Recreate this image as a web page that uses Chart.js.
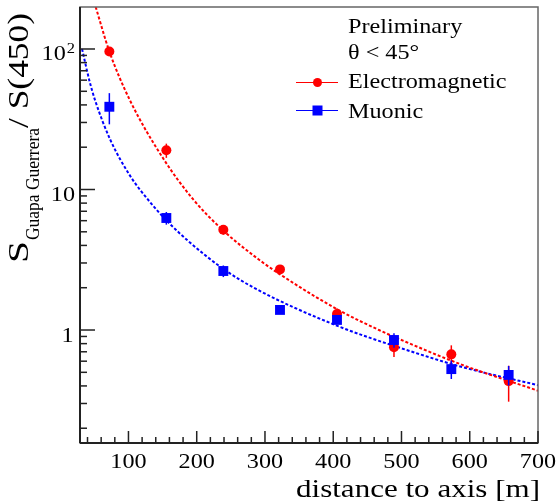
<!DOCTYPE html>
<html>
<head>
<meta charset="utf-8">
<script src="https://cdn.jsdelivr.net/npm/chart.js@4.4.0/dist/chart.umd.min.js"></script>
<style>
  html, body { margin: 0; padding: 0; background: #fff; }
  #wrap { width: 559px; height: 503px; }
</style>
</head>
<body>
<div id="wrap"><canvas id="chart" width="559" height="503"></canvas></div>
<script>
// measured points (distance to shower axis in m)
const distance = [72, 155.5, 239, 322, 405.5, 489, 573, 657];
const emRatio = [96, 19.0, 5.17, 2.70, 1.30, 0.753, 0.671, 0.433];
const emError = [5, 2.2, 0.4, 0.15, 0.13, 0.11, 0.107, 0.124];
const muRatio = [38.8, 6.27, 2.63, 1.39, 1.18, 0.849, 0.527, 0.479];
const muError = [9.7, 0.65, 0.25, 0.08, 0.08, 0.1, 0.079, 0.076];

// fitted curves
const emFitX = [52, 72, 102, 151, 194, 238, 290, 322, 404, 467, 506, 589, 700];
const emFitY = [199, 96, 43.3, 16.6, 8.6, 5.15, 3.2, 2.49, 1.42, 1.0, 0.825, 0.565, 0.37];
const muFitX = [32, 43, 51, 73, 102, 131, 156, 190, 239, 287, 404, 506, 589, 700];
const muFitY = [100, 59, 43.3, 22.8, 12.6, 8.2, 6.0, 4.2, 2.72, 1.96, 1.08, 0.725, 0.545, 0.405];

const xTicks = [100, 200, 300, 400, 500, 600, 700];
const yTicks = [1, 10, 100];
const yTickLabels = [["1", ""], ["10", ""], ["10", "2"]];
const legendHeader = ["Preliminary", "θ < 45°"];
const seriesNames = ["Electromagnetic", "Muonic"];

const RED = "#ff0000";
const BLUE = "#0000ff";
const SERIF = '"Liberation Serif", "Times New Roman", serif';
const SX = 1.1;

function toPoints(xs, ys) {
    return xs.map((v, i) => ({ x: v, y: ys[i] }));
}

function drawText(ctx, text, x, y, size, align, sx) {
    ctx.save();
    ctx.font = size + "px " + SERIF;
    ctx.fillStyle = "#000";
    ctx.textBaseline = "alphabetic";
    ctx.textAlign = align;
    ctx.translate(x, y);
    ctx.scale(sx, 1);
    ctx.fillText(text, 0, 0);
    const w = ctx.measureText(text).width * sx;
    ctx.restore();
    return w;
}

function fitText(ctx, text, x, y, size, target) {
    ctx.save();
    ctx.font = size + "px " + SERIF;
    const w = ctx.measureText(text).width;
    ctx.restore();
    return drawText(ctx, text, x, y, size, "left", target / w);
}

function line(ctx, x1, y1, x2, y2) {
    ctx.beginPath();
    ctx.moveTo(x1, y1);
    ctx.lineTo(x2, y2);
    ctx.stroke();
}

const errorBars = {
    id: "errorBars",
    beforeDatasetDraw(chart, args) {
        const ds = chart.data.datasets[args.index];
        if (!ds.errors) return;
        const { ctx, chartArea: a, scales: { x, y } } = chart;
        ctx.save();
        ctx.beginPath();
        ctx.rect(a.left, a.top, a.right - a.left, a.bottom - a.top);
        ctx.clip();
        ctx.strokeStyle = ds.backgroundColor;
        ctx.lineWidth = 1.5;
        ds.data.forEach((p, i) => {
            const px = x.getPixelForValue(p.x);
            const lo = Math.max(p.y - ds.errors[i], 1e-3);
            line(ctx, px, y.getPixelForValue(p.y + ds.errors[i]), px, y.getPixelForValue(lo));
        });
        ctx.restore();
    }
};

const rootFrame = {
    id: "rootFrame",
    afterDraw(chart) {
        const { ctx, chartArea: a, scales: { x, y } } = chart;
        ctx.save();

        // frame
        ctx.strokeStyle = "#666";
        ctx.lineWidth = 1.5;
        ctx.strokeRect(a.left, a.top, a.right - a.left, a.bottom - a.top);
        ctx.strokeStyle = "#222";
        ctx.lineWidth = 2;
        line(ctx, a.left, a.top, a.left, a.bottom);
        line(ctx, a.left, a.bottom, a.right, a.bottom);

        // x ticks, pointing into the frame
        ctx.lineWidth = 1.5;
        for (let v = 40; v <= 700; v += 20) {
            const px = x.getPixelForValue(v);
            const len = v % 100 === 0 ? 12 : 6;
            line(ctx, px, a.bottom, px, a.bottom - len);
        }
        xTicks.forEach(v => {
            drawText(ctx, String(v), x.getPixelForValue(v), 468, 22, "center", SX);
        });

        // y ticks on the log axis
        [0.1, 1, 10, 100].forEach(dec => {
            for (let m = 1; m <= 9; m++) {
                const v = dec * m;
                if (v < y.min || v > y.max) continue;
                const py = y.getPixelForValue(v);
                line(ctx, a.left, py, a.left + (m === 1 ? 15 : 7), py);
            }
        });
        yTicks.forEach((v, i) => {
            const py = y.getPixelForValue(v);
            const [base, sup] = yTickLabels[i];
            let right = base.length === 1 ? 73.5 : 75;
            if (sup) {
                const w = drawText(ctx, sup, right, py + 4, 15, "right", SX);
                right -= w + 1;
            }
            drawText(ctx, base, right, py + 11.5, 22, "right", SX);
        });

        // x title
        ctx.save();
        ctx.font = "26px " + SERIF;
        const tw = ctx.measureText("distance to axis [m]").width;
        ctx.restore();
        drawText(ctx, "distance to axis [m]", 540, 497, 26, "right", 244 / tw);

        // y title: S_{Guapa Guerrera} / S(450), rotated
        ctx.save();
        ctx.translate(28, 263);
        ctx.rotate(-Math.PI / 2);
        fitText(ctx, "S", 0, 0, 29, 22);
        fitText(ctx, "Guapa Guerrera", 23, 11, 19, 112);
        fitText(ctx, "/ S(450)", 135, 0, 29, 115);
        ctx.restore();

        // legend
        drawText(ctx, legendHeader[0], 348, 33, 22, "left", SX);
        drawText(ctx, legendHeader[1], 348, 59, 22, "left", SX);
        const entries = [
            { name: seriesNames[0], color: RED, y: 82.5, base: 88, style: "circle" },
            { name: seriesNames[1], color: BLUE, y: 110.5, base: 118, style: "rect" }
        ];
        entries.forEach(e => {
            ctx.strokeStyle = e.color;
            ctx.fillStyle = e.color;
            ctx.lineWidth = 1;
            line(ctx, 296, e.y, 338, e.y);
            if (e.style === "circle") {
                ctx.beginPath();
                ctx.arc(317.5, e.y, 4.5, 0, Math.PI * 2);
                ctx.fill();
            } else {
                ctx.fillRect(312.5, e.y - 5, 10, 10);
            }
            drawText(ctx, e.name, 348, e.base, 22, "left", SX);
        });

        ctx.restore();
    }
};

const ctx = document.getElementById("chart").getContext("2d");
new Chart(ctx, {
    type: "scatter",
    data: {
        datasets: [
            {
                label: seriesNames[1],
                data: toPoints(distance, muRatio),
                errors: muError,
                backgroundColor: BLUE,
                borderColor: BLUE,
                pointStyle: "rect",
                pointRadius: 7,
                pointBorderWidth: 0,
                showLine: false,
                order: 0
            },
            {
                label: seriesNames[0],
                data: toPoints(distance, emRatio),
                errors: emError,
                backgroundColor: RED,
                borderColor: RED,
                pointStyle: "circle",
                pointRadius: 5,
                pointBorderWidth: 0,
                showLine: false,
                order: 1
            },
            {
                label: "EM fit",
                data: toPoints(emFitX, emFitY),
                borderColor: RED,
                borderWidth: 2,
                borderDash: [3, 2],
                pointRadius: 0,
                showLine: true,
                cubicInterpolationMode: "monotone",
                order: 2
            },
            {
                label: "Muon fit",
                data: toPoints(muFitX, muFitY),
                borderColor: BLUE,
                borderWidth: 2,
                borderDash: [3, 2],
                pointRadius: 0,
                showLine: true,
                cubicInterpolationMode: "monotone",
                order: 3
            }
        ]
    },
    options: {
        responsive: false,
        animation: false,
        devicePixelRatio: 1,
        layout: { padding: { top: 7, right: 21, left: 0, bottom: 0 } },
        plugins: {
            legend: { display: false },
            tooltip: { enabled: false }
        },
        scales: {
            x: {
                type: "linear",
                min: 29,
                max: 700,
                bounds: "data",
                grid: { display: false },
                border: { display: false },
                ticks: { display: false },
                afterFit: s => { s.height = 60; }
            },
            y: {
                type: "logarithmic",
                min: 0.157,
                max: 199,
                bounds: "data",
                grid: { display: false },
                border: { display: false },
                ticks: { display: false },
                afterFit: s => { s.width = 80; }
            }
        }
    },
    plugins: [errorBars, rootFrame]
});
</script>
</body>
</html>
